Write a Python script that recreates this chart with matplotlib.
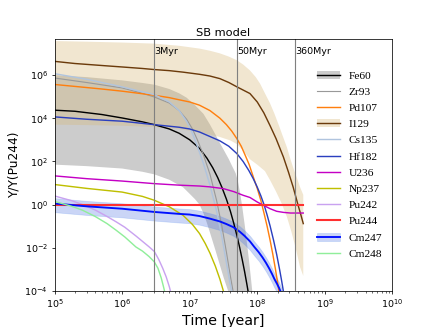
"""
SB model: abundance ratios Y/Y(Pu244) against time, read off the reference figure.
Values are stored as log10(Y/Y(Pu244)) and times in years.
"""

import numpy as np
import matplotlib
matplotlib.use('Agg')
import matplotlib.pyplot as plt
from matplotlib.ticker import NullLocator

# ---- data ----
fe60_t = [1e5, 2e5, 5e5, 1e6, 2e6, 3e6, 5e6, 7e6, 1e7, 1.4e7, 1.8e7, 2.2e7, 2.6e7, 3e7, 3.5e7,
          4e7, 4.5e7, 5e7, 5.5e7, 6e7, 6.5e7, 7e7, 7.5e7]
fe60_log = [4.37, 4.32, 4.17, 4.01, 3.83, 3.7, 3.5, 3.3, 3.0, 2.6, 2.15, 1.7, 1.25, 0.8, 0.25,
            -0.3, -0.87, -1.43, -1.99, -2.55, -3.1, -3.66, -4.2]
fe60_t_up = [1e5, 3e5, 1e6, 2e6, 3e6, 5e6, 7e6, 9e6, 1.2e7, 1.6e7, 2e7, 2.4e7, 2.8e7, 3.3e7,
             3.8e7, 4.3e7, 4.8e7, 5.2e7, 5.6e7, 6e7, 6.5e7, 7e7, 7.5e7, 8e7, 8.5e7]
fe60_log_up = [5.99, 5.9, 5.75, 5.63, 5.55, 5.35, 5.15, 4.95, 4.6, 4.2, 3.7, 3.25, 2.85, 2.45,
               2.1, 1.75, 1.45, 1.05, 0.5, -0.1, -0.9, -1.7, -2.5, -3.3, -4.1]
fe60_t_lo = [1e5, 3e5, 1e6, 2e6, 3e6, 5e6, 8e6, 1e7, 1.2e7, 1.4e7, 1.6e7, 1.8e7, 2e7, 2.4e7,
             2.8e7, 3.2e7, 3.8e7]
fe60_log_lo = [1.85, 1.78, 1.67, 1.52, 1.4, 1.15, 0.8, 0.5, 0.25, 0.0, -0.4, -0.85, -1.3, -2.1,
               -2.8, -3.4, -4.1]

zr93_t = [1e5, 3e5, 1e6, 2e6, 3e6, 5e6, 7e6, 9e6, 1.1e7, 1.3e7, 1.6e7, 2e7, 2.5e7, 3e7, 3.5e7,
          4e7, 4.5e7]
zr93_log = [5.86, 5.65, 5.4, 5.15, 4.98, 4.7, 4.35, 3.95, 3.5, 3.0, 2.3, 1.4, 0.2, -1.0, -2.2,
            -3.3, -4.2]

cs135_t = [1e5, 3e5, 1e6, 2e6, 3e6, 5e6, 7e6, 9e6, 1.1e7, 1.3e7, 1.6e7, 2e7, 2.5e7, 3e7, 3.5e7,
           4e7, 4.3e7]
cs135_log = [6.06, 5.8, 5.45, 5.22, 5.09, 4.75, 4.35, 3.85, 3.3, 2.7, 1.9, 0.9, -0.3, -1.5, -2.7,
             -3.7, -4.2]

pd107_t = [1e5, 2e5, 5e5, 1e6, 2e6, 3e6, 5e6, 7e6, 1e7, 1.4e7, 2e7, 2.8e7, 3.5e7, 4.2e7, 5e7,
           5.8e7, 6.6e7, 7.6e7, 8.7e7, 1e8, 1.13e8, 1.26e8, 1.4e8, 1.55e8, 1.7e8, 1.85e8, 2e8,
           2.15e8]
pd107_log = [5.56, 5.47, 5.35, 5.25, 5.13, 5.06, 4.95, 4.85, 4.75, 4.6, 4.35, 4.0, 3.7, 3.4, 3.05,
             2.7, 2.3, 1.85, 1.3, 0.75, 0.2, -0.4, -1.0, -1.65, -2.3, -2.95, -3.6, -4.25]

i129_t = [1e5, 2e5, 3.3e5, 6e5, 1e6, 2e6, 3e6, 5e6, 8e6, 1.4e7, 2e7, 2.8e7, 3.8e7, 5e7, 6.2e7,
          7.8e7, 1e8, 1.25e8, 1.55e8, 1.9e8, 2.44e8, 2.9e8, 3.4e8, 4e8, 4.4e8, 4.8e8]
i129_log = [6.63, 6.53, 6.48, 6.42, 6.37, 6.3, 6.25, 6.2, 6.13, 6.03, 5.95, 5.83, 5.65, 5.45, 5.3,
            5.14, 4.75, 4.25, 3.65, 3.05, 2.2, 1.5, 0.81, 0.0, -0.45, -0.88]
i129_t_up = [1e5, 3e5, 1e6, 3e6, 7e6, 1.4e7, 2e7, 2.8e7, 3.8e7, 5e7, 6.2e7, 7.8e7, 9.5e7, 1.1e8,
             1.3e8, 1.55e8, 1.8e8, 2.1e8, 2.4e8, 2.75e8, 3.1e8, 3.5e8, 3.9e8, 4.3e8, 4.8e8]
i129_log_up = [7.57, 7.54, 7.5, 7.45, 7.35, 7.22, 7.12, 7.0, 6.85, 6.68, 6.48, 6.21, 5.9, 5.6,
               5.15, 4.68, 4.2, 3.65, 3.15, 2.65, 2.1, 1.6, 1.2, 0.81, 0.45]
i129_t_lo = [1e5, 3e5, 1e6, 3e6, 7e6, 1.4e7, 2.8e7, 4e7, 5e7, 6.2e7, 7.8e7, 1e8, 1.3e8, 1.55e8,
             1.9e8, 2.3e8, 2.75e8, 3.2e8, 3.7e8, 4.3e8, 4.8e8]
i129_log_lo = [3.7, 3.68, 3.65, 3.59, 3.5, 3.35, 3.13, 2.97, 2.8, 2.5, 2.1, 1.85, 1.55, 1.13,
               0.6, 0.05, -0.57, -1.25, -2.0, -2.89, -3.3]

hf182_t = [1e5, 3e5, 1e6, 3e6, 7e6, 1e7, 1.4e7, 2e7, 2.8e7, 3.8e7, 5e7, 6.2e7, 7.5e7, 8.7e7,
           1e8, 1.13e8, 1.26e8, 1.4e8, 1.55e8, 1.75e8, 1.94e8, 2.15e8, 2.3e8, 2.45e8, 2.55e8]
hf182_log = [4.06, 3.95, 3.86, 3.7, 3.58, 3.5, 3.36, 3.15, 2.95, 2.7, 2.36, 1.99, 1.58, 1.21,
             0.81, 0.41, 0.0, -0.48, -0.99, -1.67, -2.31, -3.03, -3.54, -4.05, -4.4]

u236_t = [1e5, 3e5, 1e6, 3e6, 7e6, 1.4e7, 2e7, 3.15e7, 4.5e7, 6.2e7, 7.8e7, 1e8, 1.23e8, 1.55e8,
          1.94e8, 2.44e8, 3.1e8, 4.8e8]
u236_log = [1.33, 1.2, 1.09, 0.97, 0.9, 0.86, 0.82, 0.74, 0.6, 0.43, 0.33, 0.12, -0.03, -0.19,
            -0.31, -0.36, -0.39, -0.39]

np237_t = [1e5, 3e5, 1e6, 2e6, 3e6, 5e6, 8e6, 1.1e7, 1.4e7, 1.7e7, 2e7, 2.4e7, 2.8e7, 3.3e7]
np237_log = [0.93, 0.75, 0.58, 0.38, 0.2, -0.1, -0.5, -0.92, -1.34, -1.8, -2.25, -2.85, -3.45,
             -4.2]

pu242_t = [1e5, 1.8e5, 2.6e5, 4e5, 6e5, 8.2e5, 1.1e6, 1.6e6, 2e6, 2.5e6, 3e6, 3.5e6, 4e6, 4.5e6,
           5e6, 5.4e6]
pu242_log = [0.4, 0.18, 0.0, -0.25, -0.55, -0.8, -1.05, -1.45, -1.7, -1.95, -2.17, -2.55, -2.95,
             -3.35, -3.8, -4.2]

pu244_t = [1e5, 4.8e8]
pu244_log = [0.0, 0.0]

cm247_t = [1e5, 3e5, 1e6, 3e6, 7e6, 1e7, 1.4e7, 2e7, 2.8e7, 3.5e7, 4.4e7, 5.5e7, 6.5e7, 7.8e7,
           9e7, 1.05e8, 1.2e8, 1.35e8, 1.5e8, 1.65e8, 1.8e8, 1.95e8, 2.1e8, 2.3e8]
cm247_log = [0.05, -0.08, -0.19, -0.34, -0.43, -0.46, -0.53, -0.65, -0.78, -0.9, -1.04, -1.25,
             -1.45, -1.7, -1.95, -2.2, -2.45, -2.7, -2.95, -3.2, -3.45, -3.65, -3.85, -4.15]
cm247_log_up = [0.3, 0.17, 0.06, -0.09, -0.18, -0.21, -0.28, -0.4, -0.53, -0.65, -0.79, -1.0,
                -1.2, -1.45, -1.7, -1.95, -2.2, -2.45, -2.7, -2.95, -3.2, -3.4, -3.6, -3.9]
cm247_log_lo = [-0.35, -0.48, -0.59, -0.74, -0.83, -0.86, -0.93, -1.05, -1.18, -1.3, -1.44,
                -1.65, -1.85, -2.1, -2.35, -2.6, -2.85, -3.1, -3.35, -3.6, -3.85, -4.05, -4.25,
                -4.55]

cm248_t = [1e5, 1.8e5, 2.6e5, 4e5, 6e5, 8.2e5, 1.1e6, 1.6e6, 2e6, 2.5e6, 3e6, 3.4e6, 3.8e6, 4.1e6,
           4.4e6]
cm248_log = [0.15, -0.08, -0.26, -0.55, -0.88, -1.19, -1.5, -1.96, -2.15, -2.4, -2.65, -2.95,
             -3.4, -3.8, -4.2]

epochs = [3e6, 5e7, 3.6e8]
epoch_labels = ['3Myr', '50Myr', '360Myr']


def ratio(logs):
    return np.power(10.0, logs)


fig = plt.figure(figsize=(6.4, 4.8), dpi=68.125)
ax = fig.add_subplot(111)

# uncertainty bands
fe_band, = ax.fill(fe60_t_up + fe60_t_lo[::-1], ratio(fe60_log_up + fe60_log_lo[::-1]),
                   color='gray', alpha=0.4, lw=0)
i_band, = ax.fill(i129_t_up + i129_t_lo[::-1], ratio(i129_log_up + i129_log_lo[::-1]),
                  color='#d7b879', alpha=0.35, lw=0)
cm_band = ax.fill_between(cm247_t, ratio(cm247_log_up), ratio(cm247_log_lo),
                          color='royalblue', alpha=0.28, lw=0.8, edgecolor='cornflowerblue')

fe_line, = ax.plot(fe60_t, ratio(fe60_log), color='black', lw=1.5)
zr_line, = ax.plot(zr93_t, ratio(zr93_log), color='#999999', lw=1.2)
pd_line, = ax.plot(pd107_t, ratio(pd107_log), color='#ff7f0e', lw=1.5)
i_line, = ax.plot(i129_t, ratio(i129_log), color='#6b3a0b', lw=1.5)
cs_line, = ax.plot(cs135_t, ratio(cs135_log), color='#b0c4de', lw=1.5)
hf_line, = ax.plot(hf182_t, ratio(hf182_log), color='#2b3fbf', lw=1.5)
u_line, = ax.plot(u236_t, ratio(u236_log), color='#c400c4', lw=1.5)
np_line, = ax.plot(np237_t, ratio(np237_log), color='#bfbf00', lw=1.5)
pu2_line, = ax.plot(pu242_t, ratio(pu242_log), color='#c9a2f0', lw=1.5)
pu4_line, = ax.plot(pu244_t, ratio(pu244_log), color='#ff3030', lw=2.2)
cm7_line, = ax.plot(cm247_t, ratio(cm247_log), color='#0010ff', lw=2.0)
cm8_line, = ax.plot(cm248_t, ratio(cm248_log), color='#90ee9a', lw=1.5)

for t, lab in zip(epochs, epoch_labels):
    ax.axvline(t, color='gray', lw=1.2)
    ax.text(t, 0.952, lab, transform=ax.get_xaxis_transform(), ha='left', va='center', fontsize=10)

ax.set_xscale('log')
ax.set_yscale('log')
ax.set_xlim(1e5, 1e10)
ax.set_ylim(1e-4, 4.5e7)
ax.set_yticks([1e-4, 1e-2, 1e0, 1e2, 1e4, 1e6])
ax.yaxis.set_minor_locator(NullLocator())

ax.set_title('SB model', fontsize=12, pad=3)
ax.set_xlabel('Time [year]', fontsize=15)
ax.set_ylabel('Y/Y(Pu244)', fontsize=13)

handles = [(fe_band, fe_line), zr_line, pd_line, (i_band, i_line), cs_line, hf_line,
           u_line, np_line, pu2_line, pu4_line, (cm_band, cm7_line), cm8_line]
labels = ['Fe60', 'Zr93', 'Pd107', 'I129', 'Cs135', 'Hf182', 'U236', 'Np237',
          'Pu242', 'Pu244', 'Cm247', 'Cm248']
ax.legend(handles, labels, loc='upper left', bbox_to_anchor=(0.763, 0.893), borderaxespad=0,
          frameon=False, handlelength=2.0, labelspacing=0.55,
          prop={'family': 'Liberation Serif', 'size': 12})

fig.savefig('out.png', dpi=68.125)
